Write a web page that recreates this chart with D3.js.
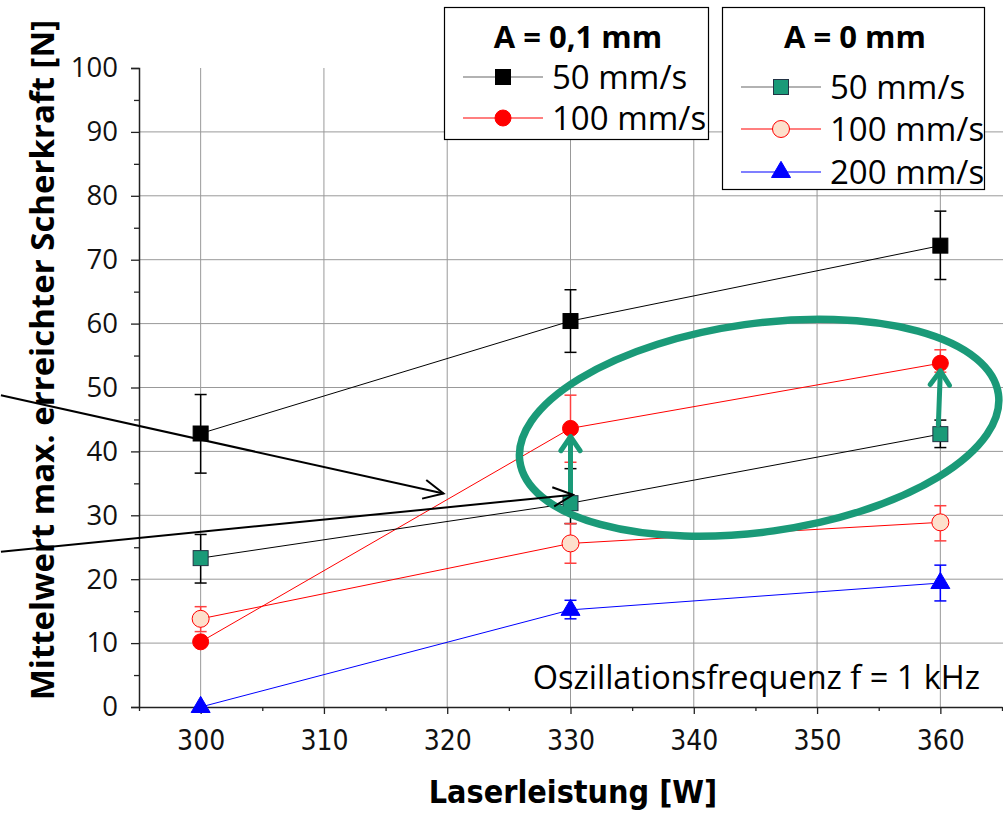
<!DOCTYPE html>
<html>
<head>
<meta charset="utf-8">
<script src="https://cdn.jsdelivr.net/npm/d3@7"></script>
<style>
	body { margin: 0; background: #fff; }
	svg { display: block; font-family: "Open Sans", sans-serif; }
</style>
</head>
<body>
<div id="chart"></div>
<script>
var power = [300, 330, 360];

// A = 0,1 mm
var a01v50 = [42.8, 60.4, 72.2];
var a01v50err = [[36.6, 48.9], [55.5, 65.3], [66.9, 77.6]];
var a01v100 = [10.2, 43.6, 53.8];
var a01v100err = [[10.2, 10.2], [38.3, 48.8], [52.4, 55.9]];

// A = 0 mm
var a0v50 = [23.3, 31.9, 42.7];
var a0v50err = [[19.4, 27.0], [28.7, 37.3], [40.6, 44.9]];
var a0v100 = [13.8, 25.6, 28.9];
var a0v100err = [[11.8, 15.7], [22.5, 28.7], [26.0, 31.5]];
var a0v200 = [0, 15.2, 19.4];
var a0v200err = [[0, 0], [13.8, 16.7], [16.6, 22.2]];

var xTicks = [300, 310, 320, 330, 340, 350, 360];
var yTicks = [0, 10, 20, 30, 40, 50, 60, 70, 80, 90, 100];

var width = 1003,
	height = 813,
	teal = "#1a9a78",
	condensed = "'DejaVu Sans Condensed', 'Open Sans', sans-serif";

var svg = d3.select("#chart").append("svg")
	.attr("width", width)
	.attr("height", height);

var x = d3.scaleLinear().domain([295, 365]).range([139, 1002]),
	y = d3.scaleLinear().domain([0, 100]).range([707, 68]);

// grid
svg.append("g").selectAll("line").data(xTicks).enter().append("line")
	.attr("x1", function(d) { return x(d); })
	.attr("x2", function(d) { return x(d); })
	.attr("y1", y(100)).attr("y2", y(0))
	.attr("stroke", "#999").attr("stroke-width", 1);

svg.append("g").selectAll("line").data(yTicks.slice(1, -1)).enter().append("line")
	.attr("x1", x(295)).attr("x2", width)
	.attr("y1", function(d) { return y(d); })
	.attr("y2", function(d) { return y(d); })
	.attr("stroke", "#999").attr("stroke-width", 1);

// axes
var yAxis = svg.append("g")
	.attr("transform", "translate(" + x(295) + ",0)")
	.call(d3.axisLeft(y).tickValues(yTicks).tickSize(8).tickPadding(13));
svg.append("g")
	.attr("transform", "translate(" + x(295) + ",0)")
	.call(d3.axisLeft(y).tickValues(d3.range(5, 100, 10)).tickSize(5).tickFormat(""))
	.select(".domain").remove();

var xAxis = svg.append("g")
	.attr("transform", "translate(0," + y(0) + ")")
	.call(d3.axisBottom(x).tickValues(xTicks).tickSize(7).tickPadding(16).tickSizeOuter(0));
svg.append("g")
	.attr("transform", "translate(0," + y(0) + ")")
	.call(d3.axisBottom(x).tickValues(d3.range(295, 366, 10)).tickSize(4).tickFormat(""))
	.select(".domain").remove();

svg.selectAll(".domain").attr("stroke", "#222").attr("stroke-width", 1.5);
svg.selectAll(".tick line").attr("stroke", "#222").attr("stroke-width", 1.3);
yAxis.selectAll("text")
	.attr("font-family", "'Open Sans', sans-serif")
	.attr("font-size", 27.5)
	.attr("fill", "#111");
xAxis.selectAll("text")
	.attr("font-family", condensed)
	.attr("font-size", 28).attr("fill", "#111");

// axis titles
svg.append("text")
	.attr("x", 573).attr("y", 803)
	.attr("text-anchor", "middle")
	.attr("font-family", condensed)
	.attr("font-weight", "bold").attr("font-size", 32)
	.text("Laserleistung [W]");

svg.append("text")
	.attr("transform", "translate(54,360) rotate(-90)")
	.attr("text-anchor", "middle")
	.attr("font-weight", "bold").attr("font-size", 33)
	.text("Mittelwert max. erreichter Scherkraft [N]");

svg.append("text")
	.attr("x", 980).attr("y", 689)
	.attr("text-anchor", "end")
	.attr("font-size", 32.5)
	.text("Oszillationsfrequenz f = 1 kHz");

// series
var series = [
	{ values: a01v50, err: a01v50err, line: "#000", errColor: "#000", marker: "square", fill: "#000", stroke: "#000", size: 15 },
	{ values: a01v100, err: a01v100err, line: "#ff0000", errColor: "#ff4040", marker: "circle", fill: "#ff0000", stroke: "#ff0000", size: 8 },
	{ values: a0v50, err: a0v50err, line: "#000", errColor: "#000", marker: "square", fill: teal, stroke: "#234", size: 15 },
	{ values: a0v100, err: a0v100err, line: "#ff0000", errColor: "#ff4040", marker: "circle", fill: "#fde0cc", stroke: "#ff0000", size: 8.5 },
	{ values: a0v200, err: a0v200err, line: "#0000ff", errColor: "#0000ff", marker: "triangle", fill: "#0000ff", stroke: "#0000ff", size: 19 }
];

var line = d3.line()
	.x(function(d, i) { return x(power[i]); })
	.y(function(d) { return y(d); });

series.forEach(function(s) {
	svg.append("path")
		.attr("d", line(s.values))
		.attr("fill", "none")
		.attr("stroke", s.line)
		.attr("stroke-width", 1);
});

series.forEach(function(s) {
	var g = svg.append("g").attr("stroke", s.errColor).attr("stroke-width", 1.5);
	s.err.forEach(function(e, i) {
		if (e[0] === e[1]) return;
		var cx = x(power[i]);
		g.append("line").attr("x1", cx).attr("x2", cx).attr("y1", y(e[0])).attr("y2", y(e[1]));
		g.append("line").attr("x1", cx - 6).attr("x2", cx + 6).attr("y1", y(e[0])).attr("y2", y(e[0]));
		g.append("line").attr("x1", cx - 6).attr("x2", cx + 6).attr("y1", y(e[1])).attr("y2", y(e[1]));
	});
});

function drawMarker(g, s, cx, cy) {
	if (s.marker === "square") {
		g.append("rect")
			.attr("x", cx - s.size / 2).attr("y", cy - s.size / 2)
			.attr("width", s.size).attr("height", s.size)
			.attr("fill", s.fill).attr("stroke", s.stroke).attr("stroke-width", 1);
	} else if (s.marker === "circle") {
		g.append("circle")
			.attr("cx", cx).attr("cy", cy).attr("r", s.size)
			.attr("fill", s.fill).attr("stroke", s.stroke).attr("stroke-width", 1);
	} else {
		var h = s.size * 0.85;
		g.append("path")
			.attr("d", "M" + cx + "," + (cy - h * 0.66) + "L" + (cx + s.size / 2) + "," + (cy + h * 0.34) + "L" + (cx - s.size / 2) + "," + (cy + h * 0.34) + "Z")
			.attr("fill", s.fill).attr("stroke", s.stroke);
	}
}

series.forEach(function(s) {
	var g = svg.append("g");
	s.values.forEach(function(v, i) { drawMarker(g, s, x(power[i]), y(v)); });
});

// annotations (data coordinates)
var ellipse = { cx: 345.3, cy: 43.7, rx: 19.6, ry: 16.3, angle: -8 };
svg.append("ellipse")
	.attr("transform", "translate(" + x(ellipse.cx) + "," + y(ellipse.cy) + ") rotate(" + ellipse.angle + ")")
	.attr("rx", x(ellipse.cx + ellipse.rx) - x(ellipse.cx))
	.attr("ry", y(0) - y(ellipse.ry))
	.attr("fill", "none")
	.attr("stroke", teal)
	.attr("stroke-width", 7.5);

var tealArrows = [
	{ x: 330, y0: 33.4, y1: 42.3 },
	{ x: 360, y0: 44.2, y1: 52.6 }
];

function arrowHead(g, x1, y1, x2, y2, len, spread) {
	var a = Math.atan2(y2 - y1, x2 - x1);
	var p1 = [x2 - len * Math.cos(a - spread), y2 - len * Math.sin(a - spread)],
		p2 = [x2 - len * Math.cos(a + spread), y2 - len * Math.sin(a + spread)];
	g.append("path")
		.attr("d", "M" + p1 + "L" + x2 + "," + y2 + "L" + p2)
		.attr("fill", "none");
}

tealArrows.forEach(function(a, i) {
	var g = svg.append("g").attr("stroke", teal).attr("stroke-width", 5).attr("stroke-linecap", "round").attr("stroke-linejoin", "round");
	var x1 = x(a.x) - (i === 1 ? 2 : 0), x2 = x(a.x);
	g.append("line").attr("x1", x1).attr("y1", y(a.y0)).attr("x2", x2).attr("y2", y(a.y1));
	arrowHead(g, x1, y(a.y0), x2, y(a.y1), 17, 0.6);
});

var blackArrows = [
	{ x0: 283.8, y0: 48.8, x1: 319.7, y1: 33.4 },
	{ x0: 283.8, y0: 24.3, x1: 330.2, y1: 33.2 }
];

blackArrows.forEach(function(a) {
	var g = svg.append("g").attr("stroke", "#000").attr("stroke-width", 2).attr("fill", "none");
	g.append("line").attr("x1", x(a.x0)).attr("y1", y(a.y0)).attr("x2", x(a.x1)).attr("y2", y(a.y1));
	arrowHead(g, x(a.x0), y(a.y0), x(a.x1), y(a.y1), 22, 0.45);
});

// legends
var legends = [
	{ title: "A = 0,1 mm", x: 444, y: 7, w: 264, h: 132, items: [series[0], series[1]], labels: ["50 mm/s", "100 mm/s"], rowY: [77, 118] },
	{ title: "A = 0 mm", x: 722, y: 7, w: 262, h: 182, items: [series[2], series[3], series[4]], labels: ["50 mm/s", "100 mm/s", "200 mm/s"], rowY: [87, 129, 172] }
];

legends.forEach(function(l) {
	var g = svg.append("g");
	g.append("rect")
		.attr("x", l.x + 0.5).attr("y", l.y + 0.5)
		.attr("width", l.w).attr("height", l.h)
		.attr("fill", "#fff").attr("stroke", "#000").attr("stroke-width", 1.2);
	g.append("text")
		.attr("x", l.x + l.w / 2 + 2).attr("y", l.y + 41)
		.attr("text-anchor", "middle")
		.attr("font-weight", "bold").attr("font-size", 31)
		.text(l.title);
	l.items.forEach(function(s, i) {
		var ry = l.rowY[i];
		g.append("line")
			.attr("x1", l.x + 19).attr("x2", l.x + 99)
			.attr("y1", ry).attr("y2", ry)
			.attr("stroke", s.line === "#000" ? "#666" : s.line)
			.attr("stroke-width", 1.2);
		drawMarker(g, s, l.x + 59, ry);
		g.append("text")
			.attr("x", l.x + 108).attr("y", ry + 12)
			.attr("font-size", 33)
			.text(l.labels[i]);
	});
});
</script>
</body>
</html>
